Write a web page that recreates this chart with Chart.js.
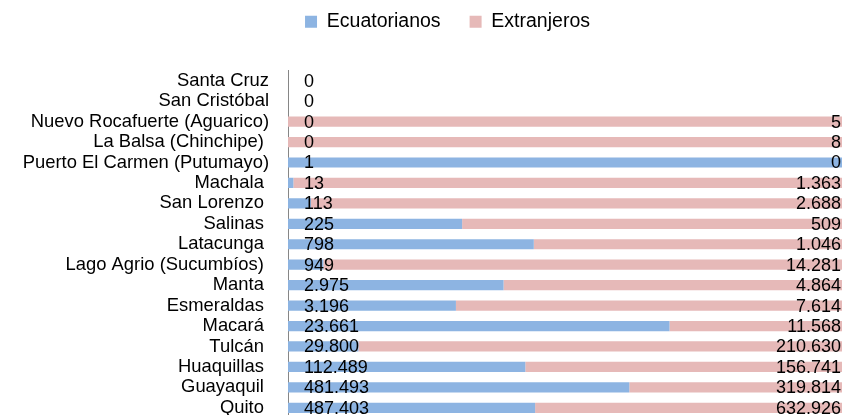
<!DOCTYPE html>
<html>
<head>
<meta charset="utf-8">
<script src="https://cdn.jsdelivr.net/npm/chart.js@4/dist/chart.umd.min.js"></script>
<style>
  body { margin: 0; overflow: hidden; background: #fff; }
</style>
</head>
<body>
<canvas id="chart" width="895" height="418"></canvas>
<script>
// categories top to bottom; trailing spaces kept as in the source sheet
const categories = [
  'Santa Cruz', 'San Cristóbal', 'Nuevo Rocafuerte (Aguarico)', 'La Balsa (Chinchipe) ',
  'Puerto El Carmen (Putumayo)', 'Machala ', 'San Lorenzo ', 'Salinas ', 'Latacunga ',
  'Lago Agrio (Sucumbíos) ', 'Manta ', 'Esmeraldas ', 'Macará ', 'Tulcán ',
  'Huaquillas ', 'Guayaquil ', 'Quito '
];
const ecuatorianos = [0, 0, 0, 0, 1, 13, 113, 225, 798, 949, 2975, 3196, 23661, 29800, 112489, 481493, 487403];
const extranjeros = [0, 0, 5, 8, 0, 1363, 2688, 509, 1046, 14281, 4864, 7614, 11568, 210630, 156741, 319814, 632926];

const totals = ecuatorianos.map((v, i) => v + extranjeros[i]);
const share = arr => arr.map((v, i) => totals[i] ? v / totals[i] * 100 : 0);
const fmt = v => String(v).replace(/\B(?=(\d{3})+(?!\d))/g, '.');

const valueLabels = {
  id: 'valueLabels',
  afterDatasetsDraw(chart) {
    const ctx = chart.ctx;
    const x0 = chart.scales.x.getPixelForValue(0);
    ctx.save();
    ctx.font = '18px Arial, "Liberation Sans", sans-serif';
    ctx.fillStyle = '#000';
    ctx.textBaseline = 'middle';
    chart.getDatasetMeta(0).data.forEach((bar, i) => {
      ctx.textAlign = 'left';
      ctx.fillText(fmt(ecuatorianos[i]), x0 + 16, bar.y + 1);
    });
    chart.getDatasetMeta(1).data.forEach((bar, i) => {
      if (!totals[i]) return;
      ctx.textAlign = 'right';
      ctx.fillText(fmt(extranjeros[i]), chart.chartArea.right - 15, bar.y + 1);
    });
    ctx.restore();
  }
};

Chart.defaults.font.family = 'Arial, "Liberation Sans", sans-serif';
Chart.defaults.color = '#000';

new Chart(document.getElementById('chart'), {
  type: 'bar',
  data: {
    labels: categories,
    datasets: [
      { label: 'Ecuatorianos', data: share(ecuatorianos), backgroundColor: '#8DB4E2',
        categoryPercentage: 1, barPercentage: 0.5 },
      { label: 'Extranjeros', data: share(extranjeros), backgroundColor: '#E6B9B8',
        categoryPercentage: 1, barPercentage: 0.5 }
    ]
  },
  options: {
    indexAxis: 'y',
    responsive: false,
    animation: false,
    layout: { padding: { top: -17, left: 0, right: 0, bottom: 0 } },
    plugins: {
      legend: {
        position: 'top',
        labels: { font: { size: 19.5 }, boxWidth: 12, boxHeight: 12, padding: 29 }
      },
      tooltip: { enabled: false }
    },
    scales: {
      x: {
        stacked: true, min: 0, max: 100, position: 'top',
        grid: { display: false }, border: { display: false },
        ticks: { display: false },
        afterFit(s) { s.height = 29; }
      },
      y: {
        stacked: true,
        grid: { display: false, drawTicks: false },
        border: { display: true, color: '#868686', width: 1 },
        ticks: { font: { size: 18.4 }, padding: 19, autoSkip: false },
        afterFit(s) { s.width = 288; s.paddingTop = 0; s.paddingBottom = 0; }
      },
      pad: {
        axis: 'y', type: 'category', position: 'right', display: true,
        grid: { display: false }, border: { display: false },
        ticks: { display: false },
        afterFit(s) { s.width = 39; s.paddingTop = 0; s.paddingBottom = 0; }
      }
    }
  },
  plugins: [valueLabels]
});
</script>
</body>
</html>
